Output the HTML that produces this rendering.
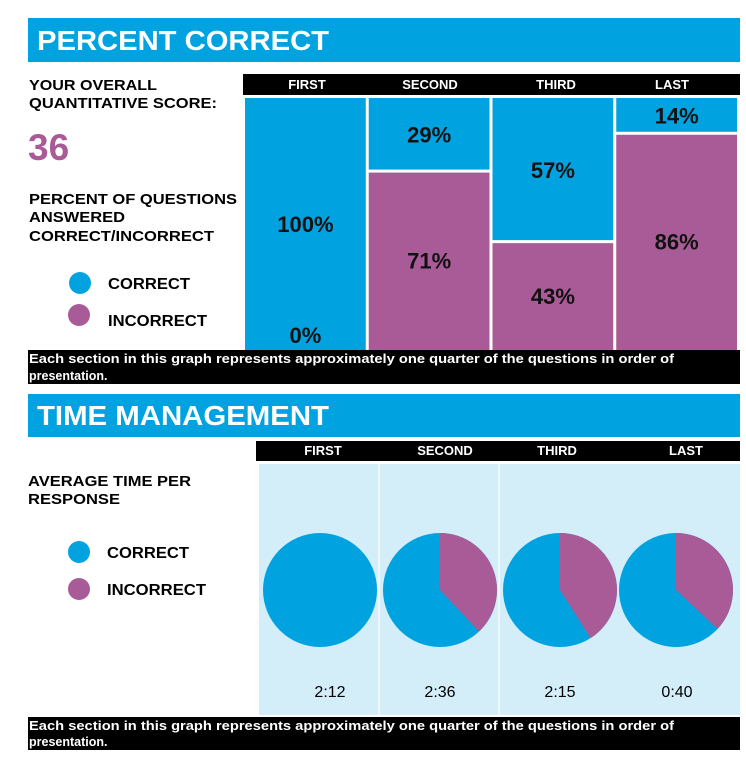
<!DOCTYPE html>
<html><head><meta charset="utf-8"><style>
body{margin:0;background:#fff;width:746px;height:770px;overflow:hidden}
svg{display:block}
text{font-family:"Liberation Sans",Arial,sans-serif}
</style></head><body>
<svg id="root" width="746" height="770" viewBox="0 0 746 770">
<rect x="28" y="18" width="712" height="44" fill="#00a3e0"/>
<text x="37" y="50" font-size="28" font-weight="bold" fill="#fff" textLength="292" lengthAdjust="spacingAndGlyphs">PERCENT CORRECT</text>
<g font-size="15" font-weight="bold" fill="#000">
<text x="29" y="90" textLength="128" lengthAdjust="spacingAndGlyphs">YOUR OVERALL</text>
<text x="29" y="108" textLength="188" lengthAdjust="spacingAndGlyphs">QUANTITATIVE SCORE:</text>
</g>
<text x="28" y="160" font-size="37" font-weight="bold" fill="#a85b96">36</text>
<g font-size="15" font-weight="bold" fill="#000">
<text x="29" y="204" textLength="208" lengthAdjust="spacingAndGlyphs">PERCENT OF QUESTIONS</text>
<text x="29" y="222" textLength="96" lengthAdjust="spacingAndGlyphs">ANSWERED</text>
<text x="29" y="241" textLength="185" lengthAdjust="spacingAndGlyphs">CORRECT/INCORRECT</text>
</g>
<g>
<ellipse cx="80" cy="283" rx="11" ry="11" fill="#00a3e0"/>
<text x="108" y="289" font-size="16" font-weight="bold" textLength="82" lengthAdjust="spacingAndGlyphs">CORRECT</text>
<ellipse cx="79" cy="315" rx="11" ry="11" fill="#a85b96"/>
<text x="108" y="326" font-size="16" font-weight="bold" textLength="99" lengthAdjust="spacingAndGlyphs">INCORRECT</text>
</g>
<rect x="243" y="74" width="497" height="21" fill="#000"/>
<g id="bars"></g>
<rect x="28" y="350" width="712" height="34" fill="#000"/>
<g font-size="12.5" font-weight="bold" fill="#fff">
<text x="29" y="363" textLength="645" lengthAdjust="spacingAndGlyphs">Each section in this graph represents approximately one quarter of the questions in order of</text>
<text x="29" y="380">presentation.</text>
</g>

<rect x="28" y="394" width="712" height="43" fill="#00a3e0"/>
<text x="37" y="425" font-size="28" font-weight="bold" fill="#fff" textLength="292" lengthAdjust="spacingAndGlyphs">TIME MANAGEMENT</text>
<g font-size="15" font-weight="bold" fill="#000">
<text x="28" y="486" textLength="163" lengthAdjust="spacingAndGlyphs">AVERAGE TIME PER</text>
<text x="28" y="504" textLength="92" lengthAdjust="spacingAndGlyphs">RESPONSE</text>
</g>
<g>
<ellipse cx="79" cy="552" rx="11" ry="11" fill="#00a3e0"/>
<text x="107" y="558" font-size="16" font-weight="bold" textLength="82" lengthAdjust="spacingAndGlyphs">CORRECT</text>
<ellipse cx="79" cy="589" rx="11" ry="11" fill="#a85b96"/>
<text x="107" y="595" font-size="16" font-weight="bold" textLength="99" lengthAdjust="spacingAndGlyphs">INCORRECT</text>
</g>
<rect x="256" y="441" width="484" height="20" fill="#000"/>
<rect x="259" y="464" width="481" height="251" fill="#d3eef9"/>
<g id="pies"></g>
<rect x="28" y="717" width="712" height="33" fill="#000"/>
<g font-size="12.5" font-weight="bold" fill="#fff">
<text x="29" y="730" textLength="645" lengthAdjust="spacingAndGlyphs">Each section in this graph represents approximately one quarter of the questions in order of</text>
<text x="29" y="746">presentation.</text>
</g>
</svg>
<script>
const categories = ["FIRST","SECOND","THIRD","LAST"];
const correctPct = [100,29,57,14];
const incorrectPct = [0,71,43,86];
const pieIncorrectPct = [0,38,41,37];
const timeLabels = ["2:12","2:36","2:15","0:40"];

const NS="http://www.w3.org/2000/svg";
const BLUE="#00a3e0", PURPLE="#a85b96";
function mk(tag,attrs,parent){const e=document.createElementNS(NS,tag);for(const k in attrs)e.setAttribute(k,attrs[k]);parent.appendChild(e);return e;}
const root=document.getElementById('root');

// Bars
const bars=document.getElementById('bars');
const bx0=245, colW=123.75, gap=3, barTop=98, barBottom=350, H=barBottom-barTop;
const headLabelX=[307,430,556,672];
function yScale(p){return barTop+H*p/100;}
categories.forEach((c,i)=>{
  const x=bx0+i*colW, w=colW-gap;
  const hl=mk('text',{x:headLabelX[i],y:89,'font-size':13,'font-weight':'bold',fill:'#fff','text-anchor':'middle'},root);
  
  
  hl.textContent=c;
  const total=correctPct[i]+incorrectPct[i];
  const split=yScale(100*correctPct[i]/total);
  const hasBoth=correctPct[i]>0&&incorrectPct[i]>0;
  const r1=mk('rect',{x:x,y:barTop,width:w,height:Math.max(0,split-barTop-(hasBoth?1.5:0)),fill:BLUE},bars);
  
  
  const r2=mk('rect',{x:x,y:split+(hasBoth?1.5:0),width:w,height:Math.max(0,barBottom-split-(hasBoth?1.5:0)),fill:PURPLE},bars);
  
  
  let y1=(barTop+split)/2, y2=(split+barBottom)/2;
  if(incorrectPct[i]===0) y2=barBottom-15;
  if(correctPct[i]===0) y1=barTop+15;
  const t1=mk('text',{x:x+w/2,y:y1+8,'font-size':22,'font-weight':'bold','text-anchor':'middle',fill:'#111'},bars);
  
  
  t1.textContent=correctPct[i]+'%';
  const t2=mk('text',{x:x+w/2,y:y2+8,'font-size':22,'font-weight':'bold','text-anchor':'middle',fill:'#111'},bars);
  
  
  t2.textContent=incorrectPct[i]+'%';
});

// Pies
const pies=document.getElementById('pies');
const pieCx=[320,440,560,676], pieCy=590, R=57;
const pieHeadX=[323,445,557,686];
[379,499].forEach((dx,k)=>{
  const l=mk('line',{x1:dx,y1:464,x2:dx,y2:715,stroke:'#fff','stroke-width':1.2},pies);
  
  
});
categories.forEach((c,i)=>{
  const hl=mk('text',{x:pieHeadX[i],y:455,'font-size':13,'font-weight':'bold',fill:'#fff','text-anchor':'middle'},root);
  
  
  hl.textContent=c;
  const cx=pieCx[i];
  const circ=mk('circle',{cx:cx,cy:pieCy,r:R,fill:BLUE},pies);
  
  
  const p=pieIncorrectPct[i];
  if(p>0){
    const a=2*Math.PI*Math.min(p,99.99)/100;
    const ex=cx+R*Math.sin(a), ey=pieCy-R*Math.cos(a);
    const d=`M${cx},${pieCy} L${cx},${pieCy-R} A${R},${R} 0 ${p>50?1:0} 1 ${ex},${ey} Z`;
    const s=mk('path',{d:d,fill:PURPLE},pies);
    
    
  }
  const t=mk('text',{x:[330,440,560,677][i],y:697,'font-size':16,'text-anchor':'middle',fill:'#000'},pies);
  
  
  t.textContent=timeLabels[i];
});
</script>
</body></html>
